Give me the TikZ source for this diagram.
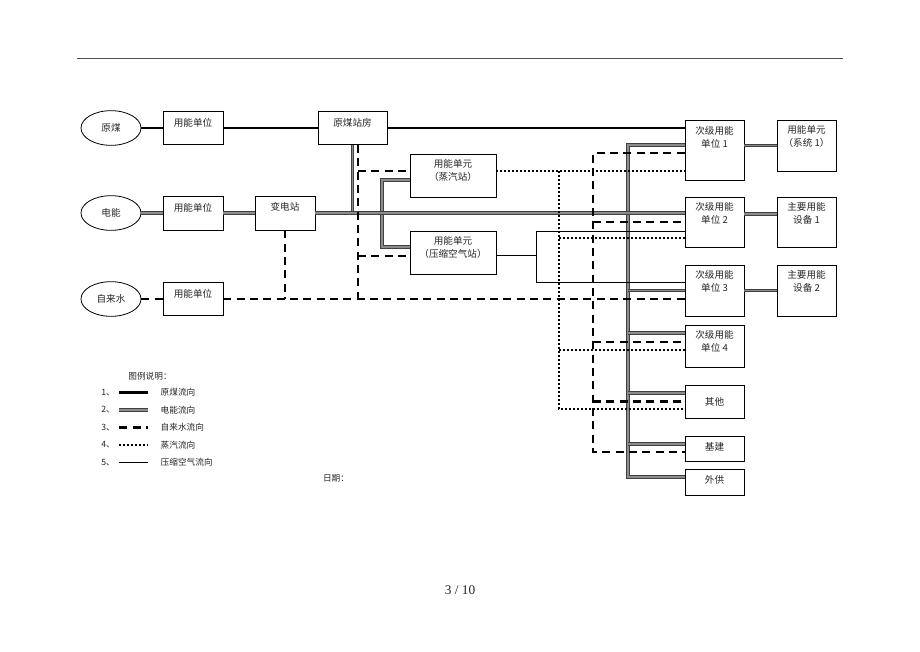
\documentclass[tikz,border=0pt]{standalone}
\usepackage{fontspec}
\setmainfont{Liberation Serif}
\newfontfamily\cjk{Noto Sans CJK SC}
\usetikzlibrary{shapes.geometric}

\begin{document}
\begin{tikzpicture}[x=0.75pt, y=-0.75pt,
        every node/.style={font=\cjk\fontsize{7.2}{9.75}\selectfont, text=black!85},
        box/.style 2 args={draw, line width=0.6pt, align=center, inner sep=2pt,
            minimum width=#1*0.75pt, minimum height=#2*0.75pt},
        src/.style={draw, ellipse, line width=0.6pt, inner sep=0pt,
            minimum width=45pt, minimum height=26pt},
        coal/.style={line width=2pt},
        power/.style={draw=black!75, double=black!45, line width=0.6pt, double distance=1.4pt},
        water/.style={line width=1.8pt, dash pattern=on 6pt off 4pt},
        steam/.style={line width=1.5pt, dash pattern=on 1.5pt off 1.5pt},
        air/.style={line width=0.75pt},
        legend/.style={font=\cjk\fontsize{6.5}{8}\selectfont}]
        \useasboundingbox (0,0) rectangle (920,651);

        \coordinate (Ra) at (77,58);
        \coordinate (Rb) at (843,58);
        \draw [line width=0.75pt, black!70] (Ra) -- (Rb);

        \node [src] (E1) at (111,128) {原煤};
        \node [src] (E2) at (111,213) {电能};
        \node [src] (E3) at (111,299) {自来水};

        \node [box={60}{33}, text depth=8.4pt] (U1) at (193,128) {用能单位};
        \node [box={60}{34}, text depth=8.4pt] (U2) at (193,213) {用能单位};
        \node [box={60}{33}, text depth=8.4pt] (U3) at (193,299) {用能单位};
        \node [box={69}{33}, text depth=8.4pt] (C1) at (352.5,128) {原煤站房};
        \node [box={60}{34}, text depth=9.9pt] (T1) at (285,213) {变电站};
        \node [box={86}{43}, text depth=8.4pt] (S1) at (453,175.5) {用能单元\\（蒸汽站）};
        \node [box={86}{43}, text depth=7.7pt] (S2) at (453,252.5) {用能单元\\（压缩空气站）};

        \node [box={59}{60}, text depth=18.9pt] (B1) at (714.5,150) {次级用能\\单位 1};
        \node [box={59}{50}, text depth=12.9pt] (B2) at (714.5,222) {次级用能\\单位 2};
        \node [box={59}{51}, text depth=14.4pt] (B3) at (714.5,290.5) {次级用能\\单位 3};
        \node [box={59}{42}, text depth=6.9pt] (B4) at (714.5,346) {次级用能\\单位 4};
        \node [box={59}{33}] (B5) at (714.5,401.5) {其他};
        \node [box={59}{25}, text depth=3pt] (B6) at (714.5,448.5) {基建};
        \node [box={59}{26}, text depth=3.9pt] (B7) at (714.5,482) {外供};

        \node [box={59}{51}, text depth=13.7pt] (D1) at (806.5,145.5) {用能单元\\（系统 1）};
        \node [box={59}{50}, text depth=12.9pt] (D2) at (806.5,222) {主要用能\\设备 1};
        \node [box={59}{51}, text depth=14.4pt] (D3) at (806.5,290.5) {主要用能\\设备 2};

        % raw coal
        \draw [coal] (E1) -- (U1);
        \draw [coal] (U1) -- (C1);
        \draw [coal] (C1.east) -- (C1.east -| B1.west);

        % power
        \coordinate (Pa) at (382,180);
        \coordinate (Pb) at (382,247);
        \coordinate (Qa) at (628,145);
        \coordinate (Qb) at (628,477);
        \coordinate (Qc) at (628,333);
        \coordinate (Qd) at (628,393);
        \coordinate (Qe) at (628,444);
        \draw [power] (C1.south) -- (C1.south |- T1.east);
        \draw [power] (E2) -- (U2);
        \draw [power] (U2) -- (T1);
        \draw [power] (Pa -| S1.west) -- (Pa) -- (Pb) -- (Pb -| S2.west);
        \draw [power] (Qa -| B1.west) -- (Qa) -- (Qb) -- (Qb -| B7.west);
        \draw [power] (T1.east) -- (T1.east -| B2.west);
        \draw [power] (Qa |- B3.west) -- (B3.west);
        \draw [power] (Qc) -- (Qc -| B4.west);
        \draw [power] (Qd) -- (Qd -| B5.west);
        \draw [power] (Qe) -- (Qe -| B6.west);
        \draw [power] (D1.west -| B1.east) -- (D1.west);
        \draw [power] ([yshift=6pt]B2.east) -- ([yshift=6pt]B2.east -| D2.west);
        \draw [power] (B3) -- (D3);

        % tap water
        \coordinate (Wa) at (358,171);
        \coordinate (Wb) at (358,256);
        \coordinate (Va) at (593,153);
        \coordinate (Vb) at (593,452);
        \coordinate (Vc) at (593,342);
        \draw [water] (E3) -- (U3);
        \draw [water] (U3.east) -- (U3.east -| B3.west);
        \draw [water] (T1.south) -- (T1.south |- U3.east);
        \draw [water] ([xshift=4pt]C1.south) -- ([xshift=4pt]C1.south |- U3.east);
        \draw [water] (Wa) -- (Wa -| S1.west);
        \draw [water] (Wb) -- (Wb -| S2.west);
        \draw [water] (Va -| B1.west) -- (Va) -- (Vb) -- (Vb -| B6.west);
        \draw [water] (Va |- B2.west) -- (B2.west);
        \draw [water] (Vc) -- (Vc -| B4.west);
        \draw [water] (Va |- B5.west) -- (B5.west);

        % steam
        \coordinate (Sa) at (559,171);
        \coordinate (Sb) at (559,409);
        \coordinate (Sc) at (559,238);
        \coordinate (Sd) at (559,350);
        \draw [steam] (Sa -| S1.east) -- (Sa -| B1.west);
        \draw [steam] (Sa) -- (Sb) -- (Sb -| B5.west);
        \draw [steam] (Sc) -- (Sc -| B2.west);
        \draw [steam] (Sd) -- (Sd -| B4.west);

        % compressed air
        \coordinate (Aa) at (536,231);
        \coordinate (Ab) at (536,282);
        \coordinate (Ac) at (536,255);
        \draw [air] (Ac -| S2.east) -- (Ac);
        \draw [air] (Aa -| B2.west) -- (Aa) -- (Ab) -- (Ab -| B3.west);

        % legend
        \node [legend] (L0) at (150,376) {图例说明：};
        \node [legend] (L1) at (108,392.5) {1、};
        \node [legend] (L2) at (108,410) {2、};
        \node [legend] (L3) at (108,427.5) {3、};
        \node [legend] (L4) at (108,445) {4、};
        \node [legend] (L5) at (108,462.5) {5、};
        \node [legend, anchor=west] (K1) at (156,392.5) {原煤流向};
        \node [legend, anchor=west] (K2) at (156,410) {电能流向};
        \node [legend, anchor=west] (K3) at (156,427.5) {自来水流向};
        \node [legend, anchor=west] (K4) at (156,445) {蒸汽流向};
        \node [legend, anchor=west] (K5) at (156,462.5) {压缩空气流向};
        \draw [coal] (L1.east) -- ([xshift=-6pt]L1.east -| K1.west);
        \draw [power] (L2.east) -- ([xshift=-6pt]L2.east -| K2.west);
        \draw [water] (L3.east) -- ([xshift=-6pt]L3.east -| K3.west);
        \draw [steam] (L4.east) -- ([xshift=-6pt]L4.east -| K4.west);
        \draw [air] (L5.east) -- ([xshift=-6pt]L5.east -| K5.west);

        \node [legend] (Dt) at (336,478) {日期：};
        \node [font=\rmfamily\fontsize{10}{12}\selectfont] (Pg) at (460,590) {3 / 10};
\end{tikzpicture}
\end{document}
